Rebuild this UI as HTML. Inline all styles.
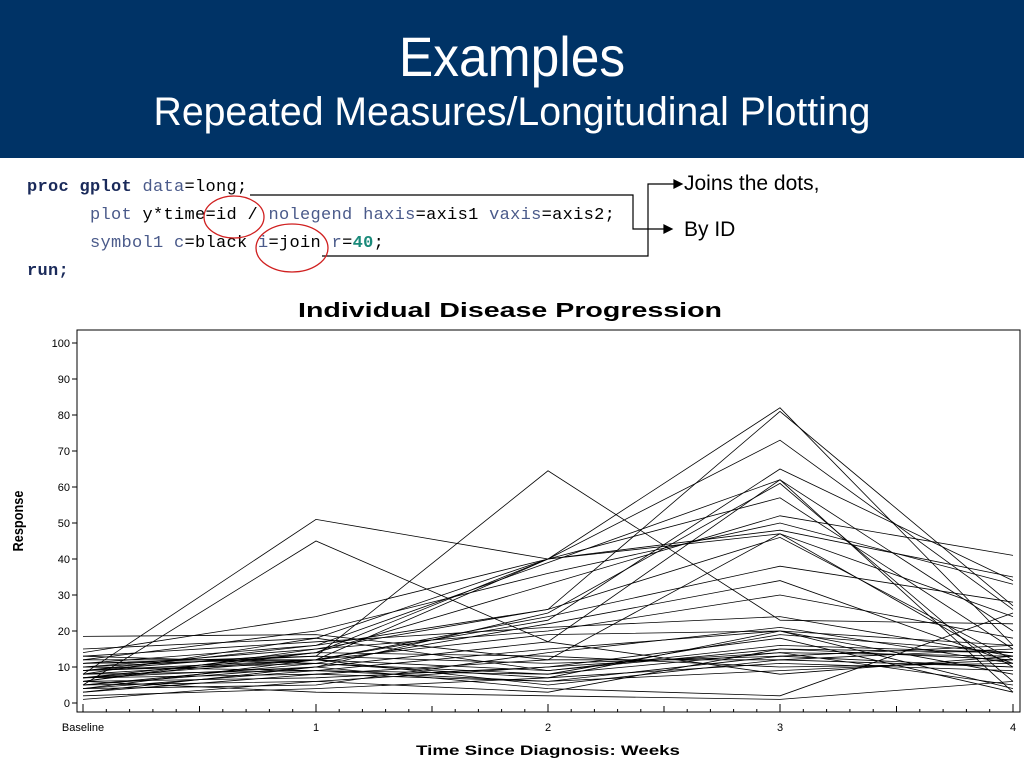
<!DOCTYPE html>
<html><head><meta charset="utf-8"><style>
body{margin:0;width:1024px;height:768px;background:#fff;overflow:hidden;font-family:"Liberation Sans",sans-serif;position:relative}
.hdr{position:absolute;left:0;top:0;width:1024px;height:158px;background:#003366;color:#fff;text-align:center}
.t1{position:absolute;top:24px;width:100%;font-size:56px;transform:scaleX(0.92)}
.t2{position:absolute;top:90px;width:100%;font-size:40px;transform:scaleX(0.98)}
.code{position:absolute;font-family:"Liberation Mono",monospace;font-size:17px;color:#4a5a8a;white-space:pre;letter-spacing:0.3px}
.k{color:#1a2a5a;font-weight:bold}.b{color:#000}.g{color:#1a8a7a;font-weight:bold}
</style></head><body>
<div class="hdr"><div class="t1">Examples</div><div class="t2">Repeated Measures/Longitudinal Plotting</div></div>
<div class="code" style="left:27px;top:178px"><span class="k">proc gplot</span> data<span class="b">=long;</span></div>
<div class="code" style="left:90px;top:206px">plot <span class="b">y*time=id /</span> nolegend haxis<span class="b">=axis1</span> vaxis<span class="b">=axis2;</span></div>
<div class="code" style="left:90px;top:234px">symbol1 c<span class="b">=black</span> i<span class="b">=join</span> r<span class="b">=</span><span class="g">40</span><span class="b">;</span></div>
<div class="code" style="left:27px;top:262px"><span class="k">run;</span></div>
<div style="position:absolute;left:684px;top:172px;font-size:21px">Joins the dots,</div>
<div style="position:absolute;left:684px;top:218px;font-size:21px">By ID</div>
<svg width="1024" height="768" style="position:absolute;left:0;top:0">
<g fill="none" stroke="#000" stroke-width="1.2">
<polyline points="250,195 633,195 633,229 668,229"/><path d="M664,225 L672,229 L664,233Z" fill="#000"/>
<polyline points="322,256 648,256 648,184 676,184"/><path d="M674,180 L682,184 L674,188Z" fill="#000"/>
</g>
<ellipse cx="234" cy="217" rx="30" ry="21" fill="none" stroke="#d02020" stroke-width="1.3"/>
<ellipse cx="292" cy="248" rx="36" ry="24" fill="none" stroke="#d02020" stroke-width="1.3"/>
<text x="298" y="317" textLength="424" lengthAdjust="spacingAndGlyphs" font-family="Liberation Sans" font-weight="bold" font-size="20">Individual Disease Progression</text>
<rect x="77" y="330" width="943" height="382" fill="none" stroke="#000" stroke-width="1"/>
<g id="yt" font-family="Liberation Sans" font-size="11" text-anchor="end"></g>
<text x="83" y="731" font-family="Liberation Sans" font-size="11" text-anchor="middle">Baseline</text>
<text x="316" y="731" font-family="Liberation Sans" font-size="11" text-anchor="middle">1</text>
<text x="548" y="731" font-family="Liberation Sans" font-size="11" text-anchor="middle">2</text>
<text x="780" y="731" font-family="Liberation Sans" font-size="11" text-anchor="middle">3</text>
<text x="1013" y="731" font-family="Liberation Sans" font-size="11" text-anchor="middle">4</text>
<text x="416" y="755" textLength="264" lengthAdjust="spacingAndGlyphs" font-family="Liberation Sans" font-weight="bold" font-size="14">Time Since Diagnosis: Weeks</text>
<text transform="translate(23,521) rotate(-90) scale(0.85,1)" font-family="Liberation Sans" font-weight="bold" font-size="15" text-anchor="middle">Response</text>
<g id="ln" fill="none" stroke="#000" stroke-width="0.8"></g>
</svg>
<script>
var X=[83,316,548,780,1013];function Y(v){return 703-3.6*v}
var yt=document.getElementById('yt'),h='';
for(var v=0;v<=100;v+=10){h+='<text x="70" y="'+(Y(v)+4)+'">'+v+'</text><line x1="72" x2="77" y1="'+Y(v)+'" y2="'+Y(v)+'" stroke="#000"/>';}
for(var i=0;i<4;i++){for(var k=1;k<10;k++){var x=X[i]+(X[i+1]-X[i])*k/10;h+='<line x1="'+x+'" x2="'+x+'" y1="712" y2="'+(k==5?706:709)+'" stroke="#000"/>';}}
for(i=0;i<5;i++)h+='<line x1="'+X[i]+'" x2="'+X[i]+'" y1="712" y2="704" stroke="#000"/>';
yt.innerHTML=h;
var D=[[8,51,40,48,35],[5,45,17,62,3],[10,13,64.5,23,22],[7,14,40,82,16],[6,15,26,81,27],[9,12,40,73,26],[4,12,23,65,34],[11,16,39,62,20],[3,10,25,61,6],[8,18,40,57,15],[6,14,33,52,41],[12,20,36,50,33],[18.5,19,12,47,24],[14,24,40,47,10],[9,16,26,46,12],[7,12,24,38,28],[5,11,22,34,11],[10,15,20,30,18],[13,17,21,24,13],[8,9,15,20,16],[6,7,10,18,3],[4,5,14,21,11],[9,11,8,14,13],[12,12,9,15,14],[3,8,6,13,16],[7,10,4,2,25],[5,6,3,15,12],[11,13,11,13,10],[2,4,7,11,9],[10,9,6,9,12],[15,18,9,16,14],[8,12,5,12,10],[6,3,2,1,6],[4,9,8,19,14],[9,14,13,10,11],[1,6,10,14,5],[13,11,7,20,8],[7,8,12,12,15],[11,12,19,20,4],[5,10,17,8,13]];
var g='';D.forEach(function(d){g+='<polyline points="'+d.map(function(v,i){return X[i]+','+Y(v).toFixed(1)}).join(' ')+'"/>'});
document.getElementById('ln').innerHTML=g;
</script>
</body></html>
